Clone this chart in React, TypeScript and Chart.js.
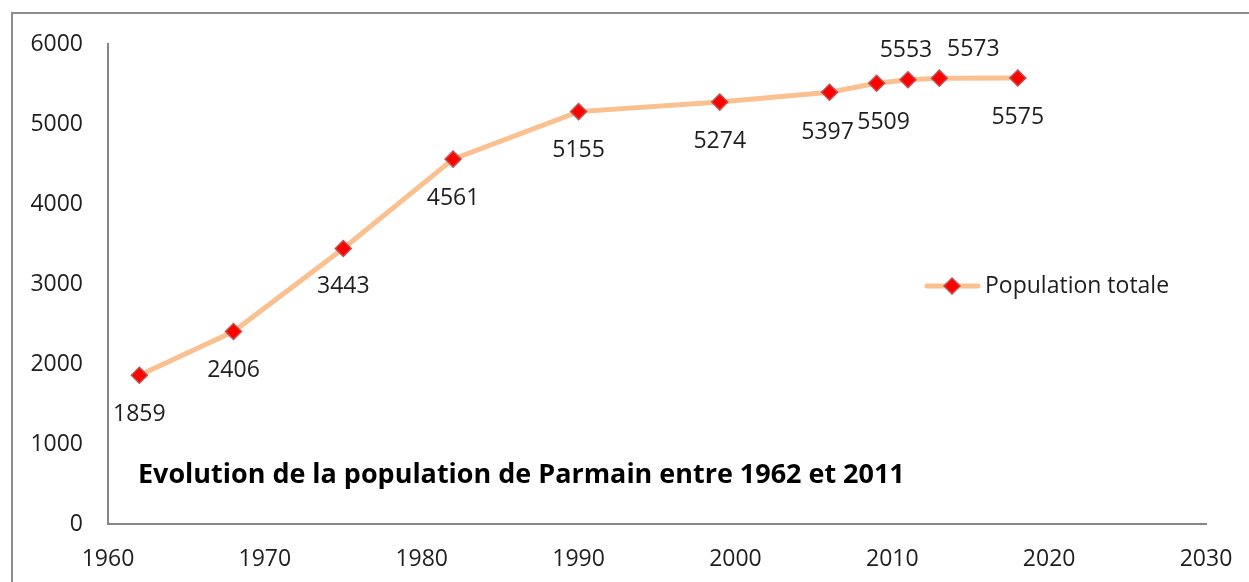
import React, { useEffect, useRef } from "react";
import { Chart, registerables } from "chart.js";

Chart.register(...registerables);

// ---- Data ----
const years = [1962, 1968, 1975, 1982, 1990, 1999, 2006, 2009, 2011, 2013, 2018];
const population = [1859, 2406, 3443, 4561, 5155, 5274, 5397, 5509, 5553, 5573, 5575];
const xTickValues = [1960, 1970, 1980, 1990, 2000, 2010, 2020, 2030];
const yTickValues = [0, 1000, 2000, 3000, 4000, 5000, 6000];
const seriesName = "Population totale";
const titleText = "Evolution de la population de Parmain entre 1962 et 2011";

// ---- Label placement (style) ----
const labelDx = [0, 0, 0, 0, 0, 0, -2, 7, -2, 34, 0];
const labelDy = [39, 39, 38, 39, 39, 39, 40, 39, -29, -29, 39];

const FONT = "'Open Sans', 'Noto Sans', sans-serif";
const TEXT_COLOR = "#1e1e1e";
const LINE_COLOR = "#FAC090";
const MARKER_FILL = "#FF0000";
const MARKER_BORDER = "#C0504D";
const AXIS_COLOR = "#868686";

export default function App() {
  const ref = useRef<HTMLCanvasElement | null>(null);

  useEffect(() => {
    if (!ref.current) return;

    const decorPlugin = {
      id: "decor",
      beforeDraw(chart: any) {
        const ctx = chart.ctx;
        ctx.save();
        ctx.fillStyle = "#ffffff";
        ctx.fillRect(0, 0, chart.width, chart.height);
        ctx.strokeStyle = "#8c8c8c";
        ctx.lineWidth = 2;
        ctx.beginPath();
        ctx.moveTo(12, chart.height + 5);
        ctx.lineTo(12, 13);
        ctx.lineTo(chart.width + 5, 13);
        ctx.stroke();
        ctx.restore();
      },
      afterDatasetsDraw(chart: any) {
        const ctx = chart.ctx;
        const meta = chart.getDatasetMeta(0);
        ctx.save();
        // data labels
        ctx.font = `23px ${FONT}`;
        ctx.fillStyle = TEXT_COLOR;
        ctx.textAlign = "center";
        ctx.textBaseline = "middle";
        meta.data.forEach((pt: any, i: number) => {
          ctx.fillText(String(population[i]), pt.x + labelDx[i], pt.y + labelDy[i]);
        });

        // title inside plot
        const targetW = 767;
        ctx.font = `bold 100px ${FONT}`;
        const w100 = ctx.measureText(titleText).width;
        const size = (100 * targetW) / w100;
        ctx.font = `bold ${size.toFixed(2)}px ${FONT}`;
        ctx.textAlign = "left";
        ctx.fillStyle = "#000000";
        ctx.fillText(titleText, 138, 475);

        // legend
        const ly = 286;
        ctx.strokeStyle = LINE_COLOR;
        ctx.lineWidth = 5;
        ctx.lineCap = "round";
        ctx.beginPath();
        ctx.moveTo(927, ly);
        ctx.lineTo(978, ly);
        ctx.stroke();
        ctx.fillStyle = MARKER_FILL;
        ctx.strokeStyle = MARKER_BORDER;
        ctx.lineWidth = 1.5;
        ctx.beginPath();
        ctx.moveTo(952, ly - 8);
        ctx.lineTo(960, ly);
        ctx.lineTo(952, ly + 8);
        ctx.lineTo(944, ly);
        ctx.closePath();
        ctx.fill();
        ctx.stroke();
        ctx.font = `23px ${FONT}`;
        ctx.fillStyle = TEXT_COLOR;
        ctx.textAlign = "left";
        ctx.fillText(seriesName, 985, ly);
        ctx.restore();
      },
    };

    const chart = new Chart(ref.current, {
      type: "line",
      data: {
        datasets: [
          {
            label: seriesName,
            data: years.map((y, i) => ({ x: y, y: population[i] })),
            borderColor: LINE_COLOR,
            borderWidth: 5,
            backgroundColor: MARKER_FILL,
            pointStyle: "rectRot",
            pointRadius: 8,
            pointBackgroundColor: MARKER_FILL,
            pointBorderColor: MARKER_BORDER,
            pointBorderWidth: 1.5,
            tension: 0,
            fill: false,
          },
        ],
      },
      options: {
        animation: false,
        responsive: false,
        maintainAspectRatio: false,
        layout: { padding: { left: 0, top: 44, right: 43, bottom: 0 } },
        plugins: {
          legend: { display: false },
          title: { display: false },
          tooltip: { enabled: false },
        },
        scales: {
          x: {
            type: "linear",
            min: 1960,
            max: 2030,
            afterBuildTicks: (scale: any) => {
              scale.ticks = xTickValues.map((v) => ({ value: v }));
            },
            afterFit: (scale: any) => {
              scale.height = 58;
              scale.paddingLeft = 0;
              scale.paddingRight = 0;
            },
            ticks: {
              font: { family: FONT, size: 23 },
              color: TEXT_COLOR,
              padding: 22,
              callback: (v: any) => String(v),
              maxRotation: 0,
              autoSkip: false,
            },
            grid: { display: true, drawOnChartArea: false, drawTicks: false },
            border: { display: true, color: AXIS_COLOR, width: 2 },
          },
          y: {
            type: "linear",
            min: 0,
            max: 6000,
            afterBuildTicks: (scale: any) => {
              scale.ticks = yTickValues.map((v) => ({ value: v }));
            },
            afterFit: (scale: any) => {
              scale.width = 108;
              scale.paddingTop = 0;
              scale.paddingBottom = 0;
            },
            ticks: {
              font: { family: FONT, size: 23 },
              color: TEXT_COLOR,
              padding: 25,
              callback: (v: any) => String(v),
              autoSkip: false,
            },
            grid: { display: true, drawOnChartArea: false, drawTicks: false },
            border: { display: true, color: AXIS_COLOR, width: 2 },
          },
        },
      },
      plugins: [decorPlugin],
    });

    return () => chart.destroy();
  }, []);

  return (
    <div style={{ position: "fixed", left: 0, top: 0, width: 1249, height: 582, background: "#fff" }}>
      <canvas ref={ref} width={1249} height={582} style={{ display: "block", width: 1249, height: 582 }} />
    </div>
  );
}
